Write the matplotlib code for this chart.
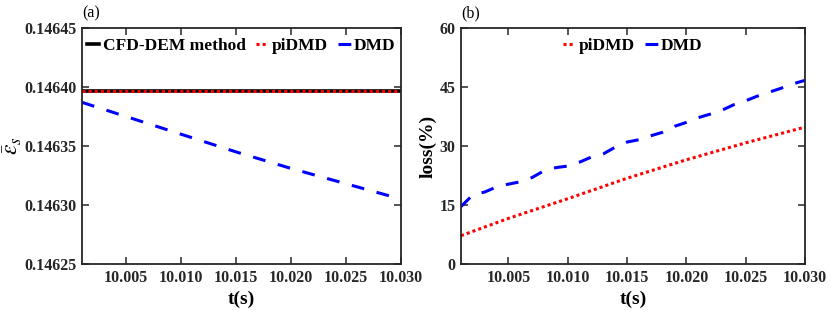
import numpy as np
import matplotlib
matplotlib.use("Agg")
import matplotlib.pyplot as plt
from matplotlib.ticker import FormatStrFormatter

plt.rcParams["font.family"] = ["Liberation Serif", "DejaVu Serif"]
plt.rcParams["mathtext.fontset"] = "stix"

# panel (a): mean solid fraction
t_a = [10.001, 10.005, 10.010, 10.015, 10.020, 10.025, 10.030]
cfd_a = [0.1463968] * 7
pidmd_a = [0.1463966] * 7
dmd_a = [0.146387, 0.146375, 0.146360, 0.146345, 0.146331, 0.146318, 0.146305]

# panel (b): loss (%)
t_b = [10.001, 10.002, 10.003, 10.004, 10.005, 10.006, 10.007, 10.008, 10.009, 10.010,
       10.011, 10.012, 10.013, 10.014, 10.015, 10.016, 10.017, 10.018, 10.019, 10.020,
       10.021, 10.022, 10.023, 10.024, 10.025, 10.026, 10.027, 10.028, 10.029, 10.030]
dmd_b = [14.6, 17.6, 18.3, 19.6, 20.3, 20.9, 22.0, 23.7, 24.5, 24.9,
         25.9, 27.2, 28.0, 29.7, 31.0, 31.6, 32.6, 33.5, 35.0, 36.0,
         37.2, 38.1, 39.1, 40.5, 41.5, 42.7, 43.7, 44.7, 45.8, 46.7]
t_pi = [10.001, 10.005, 10.010, 10.015, 10.020, 10.025, 10.030]
pidmd_b = [7.2, 11.6, 16.6, 21.8, 26.5, 30.8, 34.8]

x_ticks = [10.005, 10.010, 10.015, 10.020, 10.025, 10.030]

fig = plt.figure(figsize=(8.3, 3.14), dpi=100, facecolor="white")
ax_a = fig.add_axes([82 / 830, 1 - 264 / 314, 319 / 830, 236 / 314])
ax_b = fig.add_axes([461 / 830, 1 - 264 / 314, 344 / 830, 236 / 314])


def style_axes(ax):
    for sp in ax.spines.values():
        sp.set_color("#262626")
        sp.set_linewidth(1.3)
    ax.tick_params(direction="in", top=True, right=True, length=5, width=1.1,
                   colors="#262626", labelsize=11.5, pad=4)
    for lab in ax.get_xticklabels() + ax.get_yticklabels():
        lab.set_fontweight("bold")
    ax.set_xlim(10.001, 10.030)
    ax.set_xticks(x_ticks)
    ax.xaxis.set_major_formatter(FormatStrFormatter("%.3f"))
    ax.set_xlabel("t(s)", fontsize=14, fontweight="bold", labelpad=4)


leg_kw = dict(loc="upper center", bbox_to_anchor=(0.5, 1.0), frameon=False,
              handlelength=0.7, handletextpad=0.2, columnspacing=0.6,
              borderaxespad=0.15, prop={"weight": "bold", "size": 12.5})

# (a)
ax_a.plot(t_a, cfd_a, color="black", linewidth=2.6, label="CFD-DEM method")
ax_a.plot(t_a, pidmd_a, color="#ff0000", linewidth=2.2, dashes=(1, 1), label="piDMD")
ax_a.plot(t_a, dmd_a, color="#0000ff", linewidth=2.2, dashes=(4.2, 4.2), label="DMD")
ax_a.set_ylim(0.14625, 0.14645)
ax_a.set_yticks([0.14625, 0.14630, 0.14635, 0.14640, 0.14645])
ax_a.yaxis.set_major_formatter(FormatStrFormatter("%.5f"))
style_axes(ax_a)
ax_a.set_ylabel(r"$\bar{\varepsilon}_s$", fontsize=17, labelpad=0)
ax_a.legend(ncol=3, **leg_kw)
ax_a.text(0.0, 1.03, "(a)", transform=ax_a.transAxes, fontsize=11.5, ha="left", va="bottom")

# (b)
ax_b.plot(t_pi, pidmd_b, color="#ff0000", linewidth=2.2, dashes=(1, 1), label="piDMD")
ax_b.plot(t_b, dmd_b, color="#0000ff", linewidth=2.2, dashes=(4.2, 4.2), label="DMD")
ax_b.set_ylim(0, 60)
ax_b.set_yticks([0, 15, 30, 45, 60])
style_axes(ax_b)
ax_b.set_ylabel("loss(%)", fontsize=14, fontweight="bold", labelpad=2)
ax_b.legend(ncol=2, **leg_kw)
ax_b.text(0.0, 1.03, "(b)", transform=ax_b.transAxes, fontsize=11.5, ha="left", va="bottom")

fig.savefig("out.png", dpi=100, facecolor="white")
